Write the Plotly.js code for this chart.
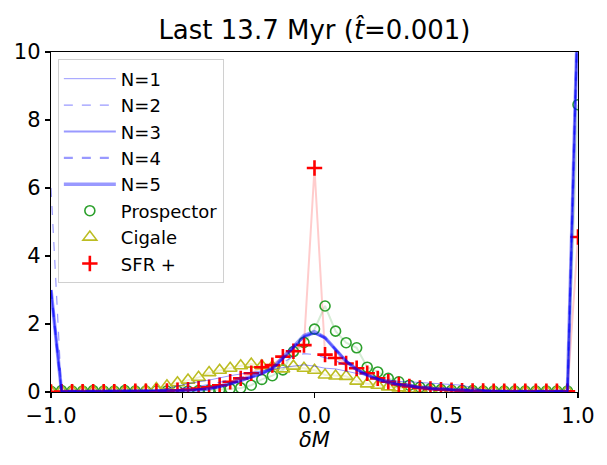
<!DOCTYPE html>
<html>
<head>
<meta charset="utf-8">
<script src="https://cdn.plot.ly/plotly-3.0.1.min.js"></script>
<style>
  html, body { margin: 0; padding: 0; background: #fff; }
  #chart { width: 607px; height: 465px; }
</style>
</head>
<body>
<div id="chart"></div>
<script>
// bin centres of delta M
var dM = [-1.00, -0.96, -0.92, -0.88, -0.84, -0.80, -0.76, -0.72, -0.68, -0.64,
          -0.60, -0.56, -0.52, -0.48, -0.44, -0.40, -0.36, -0.32, -0.28, -0.24,
          -0.20, -0.16, -0.12, -0.08, -0.04, 0.00, 0.04, 0.08, 0.12, 0.16,
          0.20, 0.24, 0.28, 0.32, 0.36, 0.40, 0.44, 0.48, 0.52, 0.56,
          0.60, 0.64, 0.68, 0.72, 0.76, 0.80, 0.84, 0.88, 0.92, 0.96, 1.00];

var n1 = [3.0, 0.01, 0.01, 0.01, 0.01, 0.01, 0.02, 0.02, 0.02, 0.03,
          0.05, 0.10, 0.18, 0.25, 0.30, 0.35, 0.42, 0.48, 0.53, 0.57,
          0.62, 0.67, 0.72, 0.77, 0.80, 0.76, 0.70, 0.68, 0.62, 0.55,
          0.48, 0.40, 0.35, 0.31, 0.30, 0.28, 0.27, 0.26, 0.24, 0.20,
          0.12, 0.06, 0.03, 0.01, 0.01, 0.01, 0.01, 0.01, 0.01, 0.01, 11.5];

var n2 = [6.0, 0.02, 0.02, 0.02, 0.02, 0.02, 0.02, 0.03, 0.03, 0.03,
          0.04, 0.07, 0.10, 0.13, 0.17, 0.22, 0.28, 0.35, 0.43, 0.52,
          0.60, 0.72, 0.86, 1.05, 1.13, 1.10, 1.00, 0.92, 0.78, 0.63,
          0.50, 0.42, 0.35, 0.28, 0.23, 0.19, 0.15, 0.12, 0.10, 0.08,
          0.06, 0.05, 0.04, 0.03, 0.02, 0.02, 0.02, 0.02, 0.02, 0.02, 11.5];

var n3 = [3.0, 0.02, 0.02, 0.02, 0.02, 0.02, 0.02, 0.02, 0.02, 0.02,
          0.02, 0.03, 0.04, 0.05, 0.07, 0.10, 0.15, 0.22, 0.32, 0.42,
          0.53, 0.68, 0.97, 1.30, 1.62, 1.72, 1.58, 1.25, 0.92, 0.68,
          0.50, 0.38, 0.29, 0.23, 0.18, 0.14, 0.11, 0.08, 0.06, 0.05,
          0.04, 0.03, 0.02, 0.02, 0.02, 0.02, 0.02, 0.02, 0.02, 0.02, 11.5];

var n4 = [3.0, 0.02, 0.02, 0.02, 0.02, 0.02, 0.02, 0.02, 0.02, 0.02,
          0.02, 0.03, 0.04, 0.05, 0.07, 0.10, 0.16, 0.24, 0.34, 0.44,
          0.55, 0.69, 0.99, 1.32, 1.64, 1.75, 1.60, 1.25, 0.90, 0.66,
          0.50, 0.37, 0.28, 0.22, 0.17, 0.13, 0.10, 0.08, 0.06, 0.05,
          0.04, 0.03, 0.02, 0.02, 0.02, 0.02, 0.02, 0.02, 0.02, 0.02, 11.5];

var n5 = [3.0, 0.02, 0.02, 0.02, 0.02, 0.02, 0.02, 0.02, 0.02, 0.02,
          0.02, 0.03, 0.04, 0.05, 0.06, 0.10, 0.16, 0.25, 0.35, 0.45,
          0.55, 0.70, 1.00, 1.33, 1.66, 1.77, 1.60, 1.25, 0.90, 0.66,
          0.50, 0.37, 0.28, 0.22, 0.17, 0.13, 0.10, 0.08, 0.06, 0.05,
          0.04, 0.03, 0.02, 0.02, 0.02, 0.02, 0.02, 0.02, 0.02, 0.02, 11.5];

var prospector = [0.02, 0.04, 0.03, 0.03, 0.04, 0.03, 0.03, 0.04, 0.03, 0.03,
                  0.03, 0.03, 0.03, 0.03, 0.04, 0.05, 0.07, 0.10, 0.12, 0.20,
                  0.37, 0.48, 0.65, 1.19, 1.46, 1.85, 2.53, 1.79, 1.45, 1.30,
                  0.73, 0.59, 0.40, 0.30, 0.20, 0.14, 0.10, 0.07, 0.05, 0.04,
                  0.04, 0.03, 0.03, 0.03, 0.03, 0.03, 0.03, 0.03, 0.03, 0.03, 8.45];

var cigale = [0.02, 0.03, 0.03, 0.03, 0.03, 0.03, 0.03, 0.03, 0.03, 0.05,
              0.10, 0.18, 0.27, 0.35, 0.43, 0.57, 0.64, 0.70, 0.77, 0.82,
              0.77, 0.75, 0.68, 0.76, 0.70, 0.64, 0.50, 0.47, 0.46, 0.32,
              0.24, 0.20, 0.15, 0.12, 0.09, 0.07, 0.06, 0.05, 0.04, 0.03,
              0.03, 0.03, 0.03, 0.03, 0.03, 0.03, 0.03, 0.03, 0.03, 0.03, 11.5];

var sfrPlus = [0.00, 0.01, 0.01, 0.01, 0.01, 0.01, 0.01, 0.01, 0.02, 0.02,
               0.02, 0.03, 0.05, 0.07, 0.10, 0.14, 0.20, 0.30, 0.40, 0.55,
               0.73, 0.79, 1.04, 1.20, 1.38, 6.59, 1.10, 1.00, 0.84, 0.70,
               0.55, 0.40, 0.30, 0.22, 0.16, 0.12, 0.09, 0.07, 0.05, 0.04,
               0.03, 0.03, 0.02, 0.02, 0.02, 0.02, 0.02, 0.02, 0.02, 0.02, 4.56];

var blue = 'rgba(0,0,255,0.4)';

function nTrace(name, y, width, dash, rank){
    return {
        type: 'scatter', mode: 'lines', name: name, x: dM, y: y,
        line: {color: blue, width: width, dash: dash},
        legendrank: rank
    };
}

function fadeLine(y, color){
    return {
        type: 'scatter', mode: 'lines', x: dM, y: y, showlegend: false,
        line: {color: color, width: 2}, hoverinfo: 'skip'
    };
}

var data = [
    fadeLine(prospector, 'rgba(44,160,44,0.2)'),
    fadeLine(cigale, 'rgba(188,189,34,0.2)'),
    fadeLine(sfrPlus, 'rgba(255,0,0,0.2)'),
    {
        type: 'scatter', mode: 'markers', name: 'Prospector', x: dM, y: prospector,
        marker: {symbol: 'circle-open', size: 10, color: '#2ca02c', line: {width: 1.6}},
        legendrank: 6
    },
    {
        type: 'scatter', mode: 'markers', name: 'Cigale', x: dM, y: cigale,
        marker: {symbol: 'triangle-up-open', size: 12, color: '#bcbd22', line: {width: 1.6}},
        legendrank: 7
    },
    {
        type: 'scatter', mode: 'markers', name: 'SFR +', x: dM, y: sfrPlus,
        marker: {symbol: 'cross-thin', size: 11, color: 'red', line: {width: 2.6, color: 'red'}},
        legendrank: 8
    },
    nTrace('N=1', n1, 1, 'solid', 1),
    nTrace('N=2', n2, 1.2, 'dash', 2),
    nTrace('N=3', n3, 2.2, 'solid', 3),
    nTrace('N=4', n4, 2.4, 'dash', 4),
    nTrace('N=5', n5, 3.6, 'solid', 5)
];

var axisStyle = {
    showgrid: false, zeroline: false,
    showline: true, linecolor: '#000', linewidth: 1.2, mirror: true,
    ticks: 'outside', ticklen: 5, tickwidth: 1.2, tickcolor: '#000',
    tickfont: {size: 21, color: '#000'}
};

var layout = {
    width: 607, height: 465,
    margin: {l: 51, r: 29, t: 52, b: 73},
    paper_bgcolor: '#fff', plot_bgcolor: '#fff',
    font: {family: 'DejaVu Sans', color: '#000'},
    title: {
        text: 'Last 13.7 Myr (<i>t\u0302</i>=0.001)',
        font: {size: 26, color: '#000'},
        x: 0.518, xanchor: 'center', y: 0.935, yanchor: 'middle'
    },
    xaxis: Object.assign({}, axisStyle, {
        range: [-1, 1],
        tickvals: [-1, -0.5, 0, 0.5, 1],
        tickformat: '.1f',
        title: {text: '<i>\u03b4M</i>', font: {size: 21, color: '#000'}, standoff: 3}
    }),
    yaxis: Object.assign({}, axisStyle, {
        range: [0, 10],
        tickvals: [0, 2, 4, 6, 8, 10]
    }),
    legend: {
        x: 0.013, y: 0.978, xanchor: 'left', yanchor: 'top',
        bgcolor: 'rgba(255,255,255,0.8)',
        bordercolor: '#d0d0d0', borderwidth: 1,
        font: {size: 18, color: '#000'},
        traceorder: 'normal',
        itemwidth: 52
    },
    showlegend: true
};

Plotly.newPlot('chart', data, layout, {staticPlot: true});
</script>
</body>
</html>
